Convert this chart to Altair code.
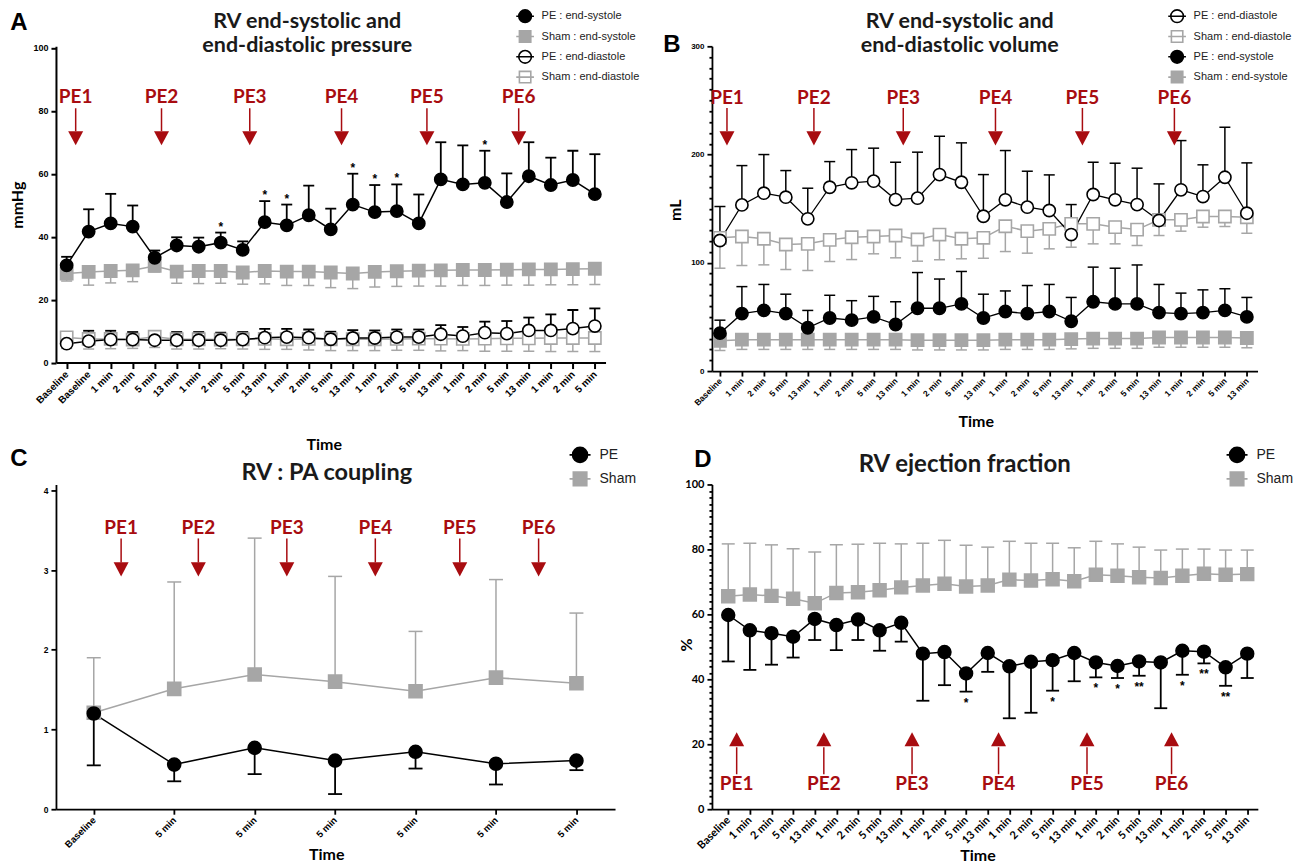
import altair as alt
import pandas as pd

RED = "#a80c10"
BLACK = "#000000"
GRAY = "#a6a6a6"
WHITE = "#ffffff"
PE_NAMES = ["PE1", "PE2", "PE3", "PE4", "PE5", "PE6"]

# ---------------- Panel A : pressure (mmHg) ----------------
A_LABELS = ["Baseline", "Baseline", "1 min", "2 min", "5 min", "13 min", "1 min", "2 min", "5 min", "13 min",
            "1 min", "2 min", "5 min", "13 min", "1 min", "2 min", "5 min", "13 min", "1 min", "2 min",
            "5 min", "13 min", "1 min", "2 min", "5 min"]
A_PE_ES = [30.9, 41.6, 44.2, 43.2, 33.3, 37.2, 36.8, 38.1, 35.8, 44.6, 43.6, 46.8, 42.3, 50.2, 47.8, 48.1,
           44.2, 58.2, 56.6, 57.1, 51.0, 59.2, 56.4, 58.0, 53.5]
A_PE_ES_HI = [33.6, 48.7, 53.6, 49.9, 35.6, 39.8, 39.7, 41.3, 38.5, 51.3, 50.2, 56.2, 48.9, 60.0, 56.4, 56.6,
              53.4, 70.0, 69.0, 67.3, 60.1, 70.0, 65.1, 67.3, 66.2]
A_SHAM_ES = [28.3, 28.8, 29.1, 29.3, 30.7, 28.9, 29.1, 29.1, 28.6, 29.1, 28.9, 28.9, 28.6, 28.3, 28.8, 29.0,
             29.2, 29.3, 29.4, 29.4, 29.5, 29.6, 29.6, 29.7, 29.8]
A_SHAM_ES_LO = [25.9, 24.6, 25.3, 25.7, 28.8, 25.2, 25.1, 25.2, 24.9, 25.0, 24.5, 24.5, 23.8, 23.5, 24.0, 24.2,
                24.3, 24.3, 24.5, 24.5, 24.6, 24.6, 24.7, 24.7, 24.8]
A_PE_ED = [6.0, 6.8, 7.3, 7.3, 7.1, 7.1, 7.1, 7.1, 7.3, 7.9, 8.1, 7.9, 7.4, 7.8, 7.8, 8.1, 8.1, 9.0, 8.4, 9.5,
           9.2, 10.2, 10.2, 10.8, 11.6]
A_PE_ED_HI = [9.3, 10.1, 10.1, 9.7, 9.8, 9.7, 9.7, 9.5, 9.7, 10.7, 10.7, 10.5, 9.8, 10.3, 10.2, 10.5, 10.5,
              11.9, 11.3, 13.0, 13.2, 14.3, 15.3, 16.7, 17.2]
A_SHAM_ED = [8.0, 7.5, 7.5, 7.3, 8.2, 7.4, 7.4, 7.3, 7.4, 7.5, 7.4, 7.5, 7.4, 7.4, 7.4, 7.5, 7.6, 7.6, 7.5, 7.6,
             7.7, 7.7, 7.8, 7.8, 7.8]
A_SHAM_ED_LO = [4.5, 4.3, 4.4, 4.5, 4.8, 4.3, 4.3, 4.4, 4.3, 4.2, 4.2, 4.0, 3.8, 3.8, 3.8, 3.9, 3.9, 3.7, 3.8,
                3.6, 3.6, 3.6, 3.5, 3.5, 3.5]
A_STARS = {7: "*", 9: "*", 10: "*", 13: "*", 14: "*", 15: "*", 19: "*"}
A_PE_POS = [0.41, 4.31, 8.32, 12.49, 16.37, 20.54]

# ---------------- Panel B : volume (mL) ----------------
BD_LABELS = ["Baseline", "1 min", "2 min", "5 min", "13 min", "1 min", "2 min", "5 min", "13 min",
             "1 min", "2 min", "5 min", "13 min", "1 min", "2 min", "5 min", "13 min",
             "1 min", "2 min", "5 min", "13 min", "1 min", "2 min", "5 min", "13 min"]
B_PE_ED = [120.6, 153.5, 164.3, 160.6, 140.6, 169.8, 173.9, 175.4, 158.4, 159.7, 181.5, 174.4, 143.0, 158.2,
           151.4, 148.3, 126.1, 163.1, 158.2, 153.8, 139.1, 167.4, 161.2, 179.0, 145.8]
B_PE_ED_HI = [152.0, 189.8, 200.0, 185.2, 168.9, 193.5, 204.6, 205.9, 192.9, 202.2, 216.9, 210.8, 181.5, 203.7,
              184.6, 181.2, 153.8, 192.9, 192.0, 187.4, 172.9, 212.9, 190.5, 225.2, 192.3]
B_SHAM_ED = [123.1, 124.3, 122.2, 116.9, 117.5, 121.2, 123.6, 124.3, 125.2, 121.5, 126.1, 122.2, 123.1, 133.8,
             129.2, 131.4, 136.0, 136.0, 132.9, 130.7, 139.7, 139.7, 142.8, 142.8, 142.1]
B_SHAM_ED_LO = [95.0, 97.5, 98.1, 93.8, 92.9, 101.2, 103.0, 108.3, 104.6, 101.5, 102.8, 103.7, 104.2, 110.4,
                108.9, 112.9, 114.4, 117.5, 117.5, 116.0, 125.2, 129.2, 132.9, 133.5, 127.3]
B_PE_ES = [35, 53, 56, 53, 40, 49, 47, 50, 43, 58, 58, 62, 49, 55, 53, 55, 46, 64, 62, 62, 54, 53, 54, 56, 50]
B_PE_ES_HI = [47, 78, 80, 71, 56, 70, 65, 69, 64, 91, 85, 92, 71, 74, 79, 80, 68, 96, 95, 98, 80, 72, 75, 76, 68]
B_SHAM_ES = [28, 29, 29, 29, 29, 29, 29, 29, 29, 28.5, 28.5, 28.5, 28.5, 29, 29, 29, 29.5, 30, 30, 30, 31, 31,
             31, 31, 30.5]
B_SHAM_ES_LO = [19, 20, 20, 20, 20, 20, 20, 20, 20, 19.5, 19.5, 19.5, 19.5, 20, 20, 20, 20.5, 21, 21, 21, 22,
                22, 22, 22, 21.5]
B_PE_POS = [0.32, 4.28, 8.35, 12.55, 16.51, 20.7]

# ---------------- Panel C : RV:PA coupling ----------------
C_LABELS = ["Baseline", "5 min", "5 min", "5 min", "5 min", "5 min", "5 min"]
C_PE = [1.20, 0.56, 0.77, 0.61, 0.72, 0.57, 0.61]
C_PE_LO = [0.55, 0.35, 0.44, 0.19, 0.51, 0.31, 0.49]
C_SHAM = [1.21, 1.51, 1.69, 1.60, 1.48, 1.65, 1.58]
C_SHAM_HI = [1.90, 2.85, 3.40, 2.92, 2.23, 2.88, 2.46]
C_PE_POS = [0.34, 1.30, 2.40, 3.50, 4.55, 5.53]

# ---------------- Panel D : ejection fraction ----------------
D_PE = [59.8, 55.1, 54.2, 53.1, 58.6, 56.7, 58.4, 55.1, 57.4, 47.9, 48.4, 41.8, 48.1, 44.0, 45.4, 45.9, 48.1,
        45.2, 44.1, 45.5, 45.2, 48.8, 48.5, 43.7, 47.9]
D_PE_LO = [45.5, 42.9, 44.5, 46.7, 52.1, 49.0, 52.1, 48.8, 51.6, 33.4, 38.2, 36.2, 42.3, 28.0, 29.7, 36.5, 39.4,
           40.6, 40.4, 41.1, 31.1, 41.4, 44.9, 38.0, 40.4]
D_SHAM = [65.6, 66.1, 65.7, 64.8, 63.4, 66.6, 66.8, 67.4, 68.3, 68.9, 69.4, 68.6, 68.9, 70.7, 70.4, 70.8, 70.2,
          72.2, 71.9, 71.4, 71.2, 71.9, 72.5, 72.2, 72.4]
D_SHAM_HI = [81.7, 81.9, 81.4, 80.2, 79.2, 81.4, 81.6, 81.9, 81.7, 81.9, 82.8, 81.3, 80.7, 82.5, 81.9, 81.9,
             80.5, 82.5, 81.7, 80.7, 79.8, 80.1, 80.1, 79.8, 79.8]
D_STARS = {11: "*", 15: "*", 17: "*", 18: "*", 19: "**", 21: "*", 22: "**", 23: "**"}
D_PE_POS = [0.39, 4.42, 8.50, 12.50, 16.59, 20.50]

DOWN_ARROW = "M-1,-0.94L1,-0.94L0,0.94Z"
UP_ARROW = "M-1,0.94L1,0.94L0,-0.94Z"
# legend symbols: marker with a short horizontal line through it
LEG_SHAPES = {
    "circle": "M-1.4,0L1.4,0M-1,0A1,1,0,1,0,1,0A1,1,0,1,0,-1,0Z",
    "square": "M-1.4,0L1.4,0M-0.9,-0.9L0.9,-0.9L0.9,0.9L-0.9,0.9Z",
}


def panel(cfg):
    labels = cfg["labels"]
    n = len(labels)
    rows = []
    for s in cfg["series"]:
        stars = s.get("stars", {})
        for i in range(n):
            rows.append({"i": i, "series": s["name"], "mean": s["mean"][i], "end": s["end"][i],
                         "star": stars.get(i, "")})
    df = pd.DataFrame(rows)
    lab_js = "[" + ",".join("'" + t + "'" for t in labels) + "][datum.value]"
    xs = alt.Scale(domain=cfg["xdom"], nice=False, zero=False)
    ys = alt.Scale(domain=cfg["ydom"], nice=False, zero=False)
    ax = cfg["xaxis"]
    ay = cfg["yaxis"]
    xaxis = alt.Axis(values=list(range(n)), labelExpr=lab_js, labelAngle=315, labelAlign="right",
                     labelBaseline="middle", labelOverlap=False, labelFlush=False, labelBound=False,
                     labelFont=ax["font"], labelFontSize=ax["fs"], labelFontWeight="bold", labelColor=BLACK,
                     labelPadding=ax["lp"], grid=False, domainColor=BLACK, domainWidth=ax["dw"],
                     tickColor=BLACK, tickWidth=ax["dw"], tickSize=ax["ts"],
                     title="Time", titleFont="Lato", titleFontSize=16, titleFontWeight="bold", titleColor=BLACK,
                     titleX=ax["tx"], titleY=ax["ty"], titleAlign="center", titleBaseline="middle")
    yk = dict(grid=False, labelFont=ay["font"], labelFontSize=ay["fs"], labelFontWeight="bold", labelColor=BLACK,
              labelPadding=3, labelOverlap=False, labelFlush=False, domainColor=BLACK, domainWidth=ay["dw"],
              tickColor=BLACK, tickWidth=ay["dw"], titleFont="Lato", titleFontSize=16, titleFontWeight="bold",
              titleColor=BLACK)
    if "minor" in ay:
        major = ay["major"]
        yk.update(values=list(range(0, ay["top"] + 1, ay["minor"])),
                  labelExpr="datum.value %% %d === 0 ? datum.label : ''" % major,
                  tickSize={"condition": {"test": "datum.value %% %d === 0" % major, "value": ay["ts"]},
                            "value": ay["ts"] - 2})
    else:
        yk.update(values=ay["values"], tickSize=ay["ts"])
    if ay.get("title"):
        yk.update(title=ay["title"], titleX=ay["tx"], titleY=ay["ty"], titleAlign="center",
                  titleBaseline="middle")
    else:
        yk.update(title=None)
    yaxis = alt.Axis(**yk)

    def X(f):
        return alt.X(f, type="quantitative", scale=xs, axis=xaxis)

    def Y(f):
        return alt.Y(f, type="quantitative", scale=ys, axis=yaxis)

    base = alt.Chart(df)
    layers = []
    for s in cfg["series"]:
        layers.append(base.transform_filter(alt.datum.series == s["name"])
                      .mark_line(color=s["color"], strokeWidth=s["lw"])
                      .encode(x=X("i"), y=Y("mean")))
    for s in cfg["series"]:
        sub = base.transform_filter(alt.datum.series == s["name"])
        layers.append(sub.mark_rule(color=s["color"], strokeWidth=s["ew"])
                      .encode(x=X("i"), y=Y("mean"), y2=alt.Y2("end")))
        layers.append(sub.mark_tick(color=s["color"], orient="horizontal", size=cfg["cap"],
                                    thickness=s["ew"], opacity=1)
                      .encode(x=X("i"), y=Y("end")))
    names = cfg["legend"]["order"]
    lg = cfg["legend"]
    smap = {s["name"]: s for s in cfg["series"]}
    fills = [smap[k]["fill"] for k in names]
    strokes = [smap[k]["color"] for k in names]
    # data markers (no legend)
    layers.append(base.mark_point(filled=True, opacity=1, size=cfg["msize"], strokeWidth=1.6)
                  .encode(x=X("i"), y=Y("mean"),
                          shape=alt.Shape("series:N", scale=alt.Scale(domain=names,
                                                                      range=[smap[k]["shape"] for k in names]),
                                          legend=None),
                          fill=alt.Fill("series:N", scale=alt.Scale(domain=names, range=fills), legend=None),
                          stroke=alt.Stroke("series:N", scale=alt.Scale(domain=names, range=strokes),
                                            legend=None)))
    layers.append(base.transform_filter(alt.datum.star != "")
                  .mark_text(font="Liberation Sans", fontWeight="bold", fontSize=12, color=BLACK,
                             align="center", baseline="alphabetic", dy=cfg["star_dy"])
                  .encode(x=X("i"), y=Y("end"), text="star:N"))
    pe = pd.DataFrame({"pos": cfg["pe_pos"], "label": PE_NAMES})
    pa = cfg["pe"]
    pbase = alt.Chart(pe)
    layers.append(pbase.mark_rule(color=RED, strokeWidth=1.5)
                  .encode(x=X("pos"), y=alt.value(pa["l1"]), y2=alt.value(pa["l2"])))
    layers.append(pbase.mark_point(shape=pa["shape"], filled=True, size=225, color=RED, opacity=1)
                  .encode(x=X("pos"), y=alt.value(pa["head"])))
    layers.append(pbase.mark_text(font="Lato", fontSize=19, fontWeight="bold", color=RED, align="center",
                                  baseline="alphabetic")
                  .encode(x=X("pos"), y=alt.value(pa["text"]), text="label:N"))
    one = alt.Chart(pd.DataFrame({"k": [0]}))
    layers.append(one.mark_text(text=cfg["letter"], font="Liberation Sans", fontSize=24, fontWeight="bold",
                                color=BLACK, align="center", baseline="alphabetic")
                  .encode(x=alt.value(cfg["letter_xy"][0]), y=alt.value(cfg["letter_xy"][1])))
    layers.append(one.mark_text(text=cfg["title"], lineBreak="\n", lineHeight=24, font="Lato",
                                fontSize=cfg["title_fs"], fontWeight="bold", color="#1a1a1a", align="center",
                                baseline="alphabetic")
                  .encode(x=alt.value(cfg["title_xy"][0]), y=alt.value(cfg["title_xy"][1])))
    # legend carrier: no marks drawn, symbols with a line through them
    legend = alt.Legend(title=None, orient="none", legendX=lg["x"], legendY=lg["y"], symbolSize=lg["ss"],
                        symbolStrokeWidth=1.6, labelFont="Liberation Sans", labelFontSize=lg["fs"],
                        labelColor="#222222", rowPadding=lg["rp"], labelOffset=lg["lo"], padding=0,
                        symbolOpacity=1)
    layers.append(base.transform_filter("false")
                  .mark_point(filled=True, opacity=1, size=cfg["msize"])
                  .encode(x=X("i"), y=Y("mean"),
                          shape=alt.Shape("series:N", scale=alt.Scale(domain=names,
                                                                      range=[LEG_SHAPES[smap[k]["shape"]]
                                                                             for k in names]),
                                          legend=legend),
                          fill=alt.Fill("series:N", scale=alt.Scale(domain=names, range=fills), legend=legend),
                          stroke=alt.Stroke("series:N", scale=alt.Scale(domain=names, range=strokes),
                                            legend=legend)))
    return alt.layer(*layers).resolve_scale(shape="independent", fill="independent",
                                            stroke="independent").properties(width=cfg["w"], height=cfg["h"])


def S(name, mean, end, color, fill, shape, lw, ew, stars=None):
    d = {"name": name, "mean": mean, "end": end, "color": color, "fill": fill, "shape": shape, "lw": lw, "ew": ew}
    if stars:
        d["stars"] = stars
    return d


pA = panel({
    "labels": A_LABELS, "xdom": [-0.486, 24.486], "ydom": [0, 100.48], "w": 550, "h": 316.5,
    "xaxis": {"font": "Liberation Sans", "fs": 10, "lp": 4, "dw": 2, "ts": 6, "tx": 268, "ty": 82},
    "yaxis": {"font": "Liberation Sans", "fs": 9, "dw": 2, "ts": 5, "values": [0, 20, 40, 60, 80, 100],
              "title": "mmHg", "tx": -38, "ty": 158.5},
    "series": [
        S("Sham : end-systole", A_SHAM_ES, A_SHAM_ES_LO, GRAY, GRAY, "square", 1.5, 1.5),
        S("Sham : end-diastole", A_SHAM_ED, A_SHAM_ED_LO, GRAY, WHITE, "square", 1.5, 1.5),
        S("PE : end-diastole", A_PE_ED, A_PE_ED_HI, BLACK, WHITE, "circle", 1.5, 1.8),
        S("PE : end-systole", A_PE_ES, A_PE_ES_HI, BLACK, BLACK, "circle", 1.5, 1.8, A_STARS),
    ],
    "legend": {"order": ["PE : end-systole", "Sham : end-systole", "PE : end-diastole", "Sham : end-diastole"],
               "x": 462, "y": -37.6, "ss": 160, "fs": 11, "rp": 0.3, "lo": 9},
    "cap": 11, "msize": 150, "star_dy": -2,
    "pe_pos": A_PE_POS, "pe": {"l1": 62, "l2": 85, "head": 92, "text": 56.5, "shape": DOWN_ARROW},
    "letter": "A", "letter_xy": (-37, -16.5),
    "title": "RV end-systolic and\nend-diastolic pressure", "title_xy": (251.5, -18), "title_fs": 21.5,
})

pB = panel({
    "labels": BD_LABELS, "xdom": [-0.364, 24.487], "ydom": [0, 300], "w": 546, "h": 325,
    "xaxis": {"font": "Liberation Sans", "fs": 8.5, "lp": 3, "dw": 1.8, "ts": 5, "tx": 264, "ty": 50.4},
    "yaxis": {"font": "Liberation Sans", "fs": 8, "dw": 1.8, "ts": 5, "minor": 10, "major": 100, "top": 300,
              "title": "mL", "tx": -36, "ty": 163.5},
    "series": [
        S("Sham : end-systole", B_SHAM_ES, B_SHAM_ES_LO, GRAY, GRAY, "square", 1.5, 1.5),
        S("Sham : end-diastole", B_SHAM_ED, B_SHAM_ED_LO, GRAY, WHITE, "square", 1.5, 1.5),
        S("PE : end-systole", B_PE_ES, B_PE_ES_HI, BLACK, BLACK, "circle", 1.3, 1.5),
        S("PE : end-diastole", B_PE_ED, B_PE_ED_HI, BLACK, WHITE, "circle", 1.3, 1.5),
    ],
    "legend": {"order": ["PE : end-diastole", "Sham : end-diastole", "PE : end-systole", "Sham : end-systole"],
               "x": 458, "y": -37.6, "ss": 160, "fs": 11, "rp": 0.3, "lo": 9},
    "cap": 11, "msize": 150, "star_dy": -2,
    "pe_pos": B_PE_POS, "pe": {"l1": 61.7, "l2": 85, "head": 92.1, "text": 57.5, "shape": DOWN_ARROW},
    "letter": "B", "letter_xy": (-40, 6),
    "title": "RV end-systolic and\nend-diastolic volume", "title_xy": (248, -18), "title_fs": 21.5,
})

pC = panel({
    "labels": C_LABELS, "xdom": [-0.47, 6.48], "ydom": [0, 4.073], "w": 559.5, "h": 325,
    "xaxis": {"font": "Liberation Sans", "fs": 9.5, "lp": 4, "dw": 1.8, "ts": 5, "tx": 270.5, "ty": 44.9},
    "yaxis": {"font": "Liberation Sans", "fs": 8.5, "dw": 1.8, "ts": 5, "values": [0, 1, 2, 3, 4]},
    "series": [
        S("Sham", C_SHAM, C_SHAM_HI, GRAY, GRAY, "square", 1.5, 1.5),
        S("PE", C_PE, C_PE_LO, BLACK, BLACK, "circle", 1.5, 1.8),
    ],
    "legend": {"order": ["PE", "Sham"], "x": 516, "y": -38.1, "ss": 225, "fs": 14, "rp": 2, "lo": 11},
    "cap": 14, "msize": 170, "star_dy": 15,
    "pe_pos": C_PE_POS, "pe": {"l1": 54, "l2": 78, "head": 85, "text": 49.5, "shape": DOWN_ARROW},
    "letter": "C", "letter_xy": (-37, -18.5),
    "title": "RV : PA coupling", "title_xy": (271, -4.5), "title_fs": 23.5,
})

pD = panel({
    "labels": BD_LABELS, "xdom": [-0.753, 24.49], "ydom": [0, 100], "w": 546.3, "h": 325,
    "xaxis": {"font": "Lato", "fs": 11, "lp": 4, "dw": 1.8, "ts": 5, "tx": 265.7, "ty": 46.6},
    "yaxis": {"font": "Lato", "fs": 11, "dw": 1.8, "ts": 5, "minor": 2, "major": 20, "top": 100,
              "title": "%", "tx": -25, "ty": 160},
    "series": [
        S("Sham", D_SHAM, D_SHAM_HI, GRAY, GRAY, "square", 1.5, 1.5),
        S("PE", D_PE, D_PE_LO, BLACK, BLACK, "circle", 1.5, 1.8, D_STARS),
    ],
    "legend": {"order": ["PE", "Sham"], "x": 517, "y": -38.1, "ss": 225, "fs": 14, "rp": 2, "lo": 11},
    "cap": 13, "msize": 165, "star_dy": 15,
    "pe_pos": D_PE_POS, "pe": {"l1": 263, "l2": 290, "head": 255, "text": 305.5, "shape": UP_ARROW},
    "letter": "D", "letter_xy": (-9, -17.5),
    "title": "RV ejection fraction", "title_xy": (253, -12.5), "title_fs": 24,
})

chart = alt.concat(pA, pB, pC, pD, columns=2, bounds="flush",
                   spacing={"row": 113.5, "column": 96.5}).resolve_scale(
    x="independent", y="independent", shape="independent", fill="independent", stroke="independent"
).configure_view(stroke=None).properties(padding={"left": 2, "top": 0, "right": 4, "bottom": 0})

chart.save("out.html", embed_options={"renderer": "svg", "actions": False})
